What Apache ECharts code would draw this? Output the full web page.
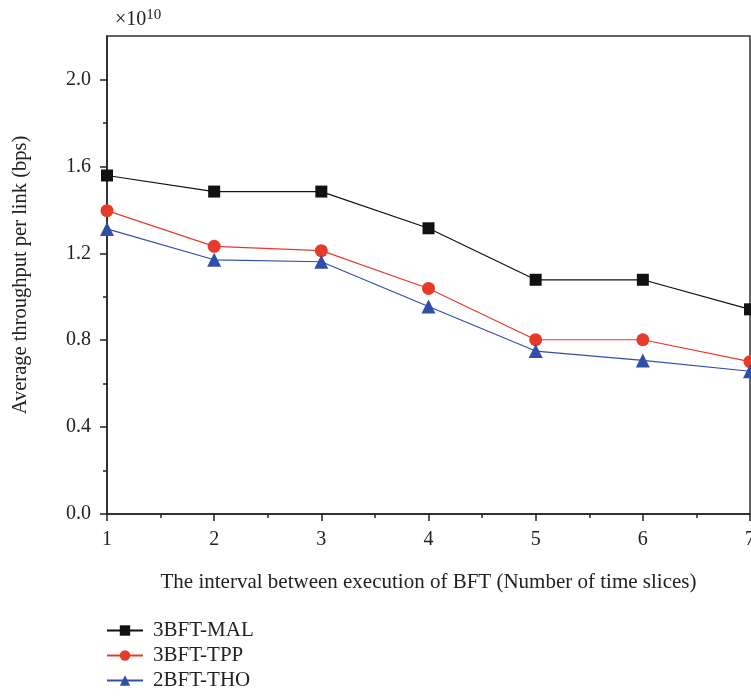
<!DOCTYPE html>
<html>
<head>
<meta charset="utf-8">
<script src="https://cdn.jsdelivr.net/npm/echarts@6/dist/echarts.min.js"></script>
<style>
  html, body { margin: 0; padding: 0; background: #fff; }
  #main { width: 751px; height: 696px; }
</style>
</head>
<body>
<div id="main"></div>
<script>
// interval between BFT executions (time slices)
var intervals = [1, 2, 3, 4, 5, 6, 7];
// average throughput per link, in units of 1e10 bps
var mal = [1.558, 1.484, 1.484, 1.315, 1.078, 1.078, 0.942];
var tpp = [1.396, 1.232, 1.212, 1.038, 0.802, 0.802, 0.701];
var tho = [1.312, 1.170, 1.161, 0.955, 0.750, 0.707, 0.657];
var seriesNames = ['3BFT-MAL', '3BFT-TPP', '2BFT-THO'];
var yTicks = [0, 0.4, 0.8, 1.2, 1.6, 2.0];

var font = 'Liberation Serif';
var myChart = echarts.init(document.getElementById('main'));

function pairs(vals) {
  return intervals.map(function (x, i) { return [x, vals[i]]; });
}

var option = {
  animation: false,
  textStyle: { fontFamily: font },
  grid: {
    left: 107, right: 1, top: 36, bottom: 182,
    outerBoundsMode: 'none', containLabel: false,
    show: true, borderColor: '#333', borderWidth: 1.5
  },
  graphic: [{
    type: 'text', left: 115, top: 8,
    style: {
      text: '×10{sup|10}',
      rich: { sup: { fontSize: 15, verticalAlign: 'top', padding: [0, 0, 9, 0], fontFamily: font, fill: '#222' } },
      font: '20px "Liberation Serif"', fill: '#222'
    }
  }],
  legend: {
    orient: 'vertical', left: 106, top: 620, itemGap: 4, padding: 0,
    itemWidth: 36, itemHeight: 13,
    textStyle: { fontFamily: font, fontSize: 21, color: '#222', padding: [0, 0, 0, 5] },
    data: seriesNames
  },
  xAxis: {
    type: 'value', min: 1, max: 7, interval: 1,
    name: 'The interval between execution of BFT (Number of time slices)',
    nameLocation: 'middle', nameGap: 58,
    nameTextStyle: { fontFamily: font, fontSize: 21, color: '#222' },
    axisLine: { lineStyle: { color: '#222', width: 1.5 } },
    axisTick: { length: 7, lineStyle: { color: '#222', width: 1.5 } },
    minorTick: { show: true, splitNumber: 2, length: 4, lineStyle: { color: '#222', width: 1.5 } },
    axisLabel: { fontFamily: font, fontSize: 20, color: '#222', margin: 16 },
    splitLine: { show: false }
  },
  yAxis: {
    type: 'value', min: 0, max: 2.2, interval: 0.4,
    name: 'Average throughput per link (bps)',
    nameLocation: 'middle', nameGap: 76,
    nameTextStyle: { fontFamily: font, fontSize: 20.5, color: '#222' },
    axisLine: { show: true, lineStyle: { color: '#222', width: 1.5 } },
    axisTick: { show: true, length: 7, customValues: yTicks, lineStyle: { color: '#222', width: 1.5 } },
    minorTick: { show: true, splitNumber: 2, length: 4, lineStyle: { color: '#222', width: 1.5 } },
    axisLabel: {
      fontFamily: font, fontSize: 20, color: '#222', margin: 16,
      customValues: yTicks,
      formatter: function (v) { return v.toFixed(1); }
    },
    splitLine: { show: false }
  },
  series: [{
    name: seriesNames[0], type: 'line', data: pairs(mal),
    symbol: 'rect', symbolSize: 12,
    lineStyle: { color: '#111', width: 1.2 }, itemStyle: { color: '#111' }
  }, {
    name: seriesNames[1], type: 'line', data: pairs(tpp),
    symbol: 'circle', symbolSize: 13,
    lineStyle: { color: '#e63a2b', width: 1.2 }, itemStyle: { color: '#e63a2b' }
  }, {
    name: seriesNames[2], type: 'line', data: pairs(tho),
    symbol: 'triangle', symbolSize: 14,
    lineStyle: { color: '#3050a8', width: 1.2 }, itemStyle: { color: '#3050a8' }
  }]
};
myChart.setOption(option);
</script>
</body>
</html>
